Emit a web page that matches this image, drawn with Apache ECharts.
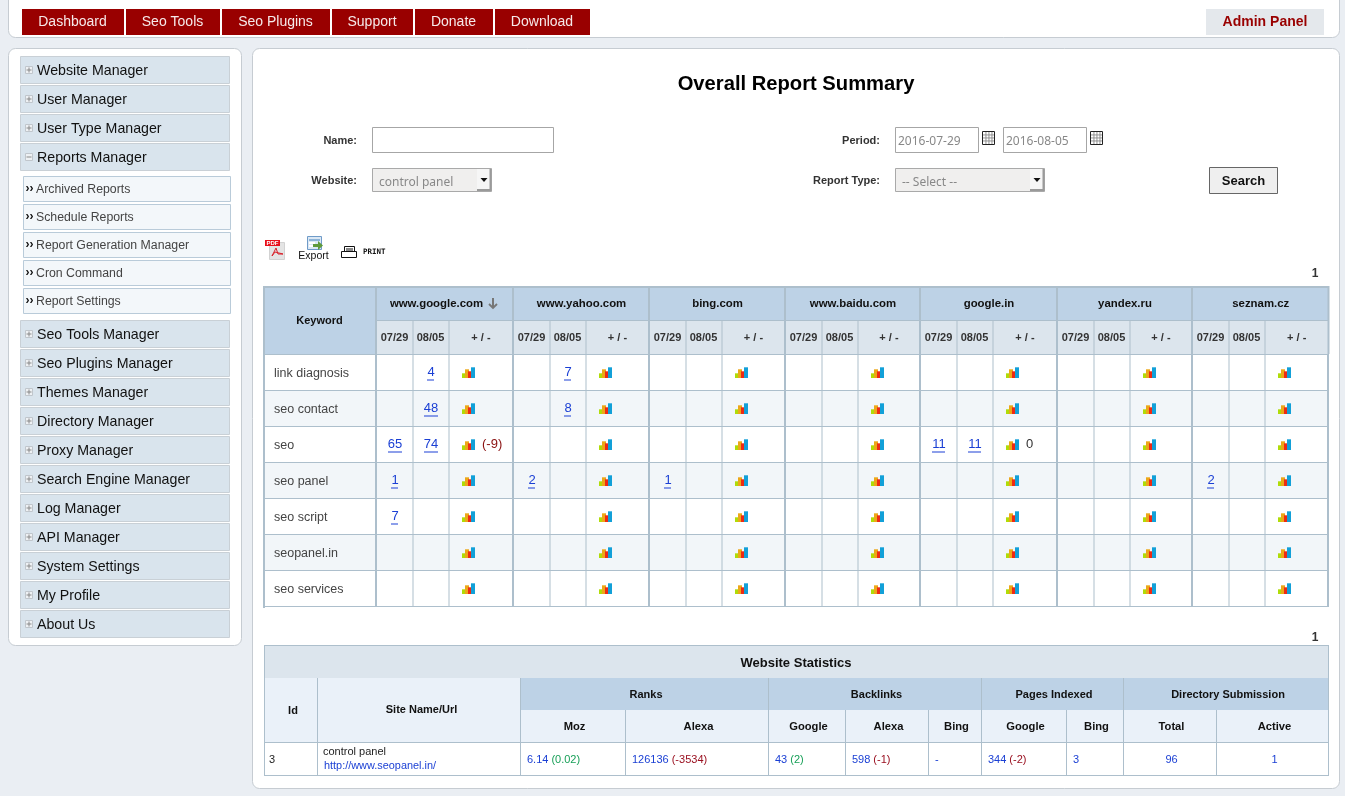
<!DOCTYPE html>
<html><head><meta charset="utf-8"><title>Overall Report Summary</title>
<style>html,body{margin:0;padding:0;background:#eaeef3;overflow:hidden}#c{width:1345px;height:796px}</style>
<script src="https://cdn.jsdelivr.net/npm/echarts@6/dist/echarts.min.js"></script></head>
<body><div id="c"></div>
<script>
// ---- content ----
const navTabs = ['Dashboard','Seo Tools','Seo Plugins','Support','Donate','Download'];
const menuTop = ['Website Manager','User Manager','User Type Manager','Reports Manager'];
const subMenu = ['Archived Reports','Schedule Reports','Report Generation Manager','Cron Command','Report Settings'];
const menuBottom = ['Seo Tools Manager','Seo Plugins Manager','Themes Manager','Directory Manager','Proxy Manager','Search Engine Manager','Log Manager','API Manager','System Settings','My Profile','About Us'];
const keywords = ['link diagnosis','seo contact','seo','seo panel','seo script','seopanel.in','seo services'];
const engines = ['www.google.com','www.yahoo.com','bing.com','www.baidu.com','google.in','yandex.ru','seznam.cz'];
const dates = ['07/29','08/05'];
const firstDate = [
  [null,null,65,1,7,null,null],
  [null,null,null,2,null,null,null],
  [null,null,null,1,null,null,null],
  [null,null,null,null,null,null,null],
  [null,null,11,null,null,null,null],
  [null,null,null,null,null,null,null],
  [null,null,null,2,null,null,null]];
const secondDate = [
  [4,48,74,null,null,null,null],
  [7,8,null,null,null,null,null],
  [null,null,null,null,null,null,null],
  [null,null,null,null,null,null,null],
  [null,null,11,null,null,null,null],
  [null,null,null,null,null,null,null],
  [null,null,null,null,null,null,null]];
const statGroups = ['Ranks','Backlinks','Pages Indexed','Directory Submission'];
const statColumns = ['Moz','Alexa','Google','Alexa','Bing','Google','Bing','Total','Active'];
const statValues = ['6.14','126136','43','598','-','344','3','96','1'];
const statDeltas = [0.02,-3534,2,-1,null,-2,null,null,null];

// ---- layout ----
const FONT='"Liberation Sans"';
const engineWidths=[137,136,136,135,137,135,136.5];
const keywordWidth=112;
const statWidths=[53,203,105,143,77,83,53,85,57,93,113];
const BORDER='#adbfcc', HEAD='#bdd2e6', SUB='#dce5ed', ALT='#f2f6f9', LINK='#1a3fd4', KW='#444444';
const el=[];
const R=(x,y,w,h,fill,stroke,r)=>el.push({type:'rect',silent:true,shape:{x,y,width:w,height:h,r:r||0},style:{fill:fill||'none',stroke:stroke||null,lineWidth:stroke?1:0}});
const T=(x,y,text,font,fill,align,family)=>el.push({type:'text',silent:true,style:{x,y,text,font:font+' '+(family||FONT),fill:fill||'#111',align:align||'left',verticalAlign:'middle'}});
const mctx=document.createElement('canvas').getContext('2d');
const tw=(s,f)=>{mctx.font=f+' '+FONT;return mctx.measureText(s).width;};

// top bar and panels
R(8.5,-10.5,1331,48,'#fff','#c6ccd2',7);
R(8.5,48.5,233,597,'#fff','#c6ccd2',7);
R(252.5,48.5,1087,740,'#fff','#c6ccd2',7);
// nav
const navX=[[22,102],[126,94],[222,108],[332,81],[415,78],[495,95]];
navTabs.forEach((t,i)=>{R(navX[i][0],9,navX[i][1],26,'#990000');T(navX[i][0]+navX[i][1]/2-.5,22.5,t,'14px','#f6e9e9','center');});
R(1206,9,118,26,'#e4e8ec');T(1265,22.5,'Admin Panel','bold 14px','#990000','center');
// side menu
function menuItem(t,y,open){
  R(20.5,y+.5,209,27,'#d9e4ed','#c9d0d6');
  R(25.5,y+10.5,7,7,'#eef1f4','#c0c6cc');
  R(26.5,y+13.5,5,1,'#888');
  if(!open)R(28.5,y+11.5,1,5,'#888');
  T(37,y+15,t,'14.2px','#111');
}
menuTop.forEach((t,i)=>menuItem(t,56+29*i,i===3));
subMenu.forEach((t,i)=>{const y=176+28*i;
  R(23.5,y+.5,207,25,'#f3f7fa','#b9cbd9');
  T(25.5,y+13,'››','bold 12px','#111');
  T(36,y+13.5,t,'12.3px','#444');});
menuBottom.forEach((t,i)=>menuItem(t,320+29*i,false));
// heading and form
T(796,84,'Overall Report Summary','bold 20.2px','#000','center');
T(357,140.5,'Name:','bold 11px','#333','right');
T(357,180.5,'Website:','bold 11px','#333','right');
T(880,140.5,'Period:','bold 11px','#333','right');
T(880,180.5,'Report Type:','bold 11px','#333','right');
R(372.5,127.5,181,25,'#fff','#a6a6a6');
function calendar(x){R(x+.5,131.5,12,13,'#fff','#222');
  [3,6,9].forEach(d=>R(x+d+.5,132,.9,12,'#888'));[3,6,9].forEach(d=>R(x+1,131+d+.5,11,.9,'#888'));}
const NOTO='"Noto Sans"';
R(895.5,127.5,83,25,'#fff','#a6a6a6');T(898,141.5,'2016-07-29','12px','#888','left',NOTO);calendar(982);
R(1003.5,127.5,83,25,'#fff','#a6a6a6');T(1006,141.5,'2016-08-05','12px','#888','left',NOTO);calendar(1090);
function select(x,w,t){R(x+.5,168.5,w-1,23,'#f0efee','#a9a9a9');T(x+7,182.5,t,'12px','#888','left',NOTO);
  R(x+w-15,169,13,20,'#f6f6f6');R(x+w-2.5,169,2,22,'#9a9a9a');R(x+w-15,189,14,2,'#9a9a9a');
  el.push({type:'polygon',silent:true,shape:{points:[[x+w-11.5,178],[x+w-4.5,178],[x+w-8,182]]},style:{fill:'#111'}});}
select(372,120,'control panel');select(895,150,'-- Select --');
R(1209.5,167.5,68,26,'#efefef','#666');T(1243.5,181,'Search','bold 13px','#111','center');
// toolbar icons
R(269.5,242.5,15,17,'#e4e4e4','#d2d2d2');R(265,240,15,6,'#e8101c');T(272.5,243.2,'PDF','bold 6px','#fff','center');
el.push({type:'polyline',silent:true,shape:{points:[[272,256],[276,248],[278,254],[283,254],[275,252],[272,256]]},style:{stroke:'#d8202a',lineWidth:1,fill:'none'}});
R(307.5,236.5,14,13,'#dbe8f5','#6f9bc8');R(309,239,11,2,'#8db4d8');[242,245].forEach(y=>R(309,y,6,2,'#fff'));
el.push({type:'polygon',silent:true,shape:{points:[[313,244],[318,244],[318,241],[323,245.5],[318,250],[318,247],[313,247]]},style:{fill:'#5f9a3c'}});
T(313.5,256,'Export','10.5px','#111','center');
R(344.5,246.5,10,8,'#fff','#111');R(341.5,251.5,15,6,'#fff','#111');R(346,248.5,7,1,'#111');R(346,250.5,7,1,'#111');
T(363,252.5,'PRINT','bold 7.5px','#111','left','"DejaVu Sans Mono"');
T(1315,273.5,'1','bold 12px','#333','center');
T(1315,638,'1','bold 12px','#333','center');

// ---- table 1 header ----
const Tx=264, Ty=287;
R(Tx,Ty,1065,67,HEAD);
R(Tx,Ty-1,1065,2,BORDER);
T(Tx+keywordWidth/2-.5,320.5,'Keyword','bold 11px','#111','center');
let ex=Tx+keywordWidth;
const engineStart=[];
engines.forEach((e,i)=>{
  const w=engineWidths[i]; engineStart.push(ex-Tx);
  R(ex,320,w,34,SUB);
  R(ex,320,w,1,BORDER);
  T(ex+w/2+(i===0?-8:.5),303.5,e,'bold 11.4px','#111','center');
  T(ex+18.5,337.5,dates[0],'bold 11px','#333','center');
  T(ex+54.5,337.5,dates[1],'bold 11px','#333','center');
  T(ex+73+(w-73)/2,337.5,'+ / -','bold 11px','#333','center');
  R(ex+36.5,320,1,34,BORDER);R(ex+72.5,320,1,34,BORDER);
  R(ex-1,287,2,67,BORDER);
  ex+=w;
});
// sort arrow
el.push({type:'polyline',silent:true,shape:{points:[[489,304],[493,308],[497,304]]},style:{stroke:'#777',lineWidth:1.8,fill:'none'}});
R(492,298,2,10,'#777');

// ---- table 2 header ----
const Sy=645;
R(Tx,Sy,1065,33,SUB);
R(Tx,Sy,1065,1,BORDER);
T(796,663,'Website Statistics','bold 13px','#111','center');
R(Tx,678,1065,64,'#eaf1f9');
const sE=[0];statWidths.forEach(w=>sE.push(sE[sE.length-1]+w));
const groupEdges=[[2,4],[4,7],[7,9],[9,11]];
groupEdges.forEach((g,i)=>{const a=Tx+sE[g[0]],b=Tx+sE[g[1]];R(a,678,b-a,32,HEAD);T((a+b)/2+2,694.5,statGroups[i],'bold 11px','#111','center');R(a,678,1,64,BORDER);});
statColumns.forEach((c,i)=>{const a=Tx+sE[i+2],b=Tx+sE[i+3];T((a+b)/2+2,726.5,c,'bold 11.2px','#111','center');if(i)R(a,710,1,32,BORDER);});
T(Tx+29,710.5,'Id','bold 11px','#111','center');
T(Tx+sE[1]+104.5,710,'Site Name/Url','bold 11px','#111','center');
R(Tx+sE[1],678,1,64,BORDER);
R(Tx,742,1065,1,BORDER);

// ---- chart data ----
const rankCells=[];
engines.forEach((e,i)=>keywords.forEach((k,r)=>{
  const a=firstDate[i][r], b=secondDate[i][r];
  rankCells.push([engineStart[i],r,i,a,b,(a!=null&&b!=null)?a-b:null]);
}));
const keywordCells=keywords.map((k,r)=>[0,r]);

function bars(x,y){
  const out=[];
  [[0,4.7,3.5,'#b0dc08'],[3,8.7,4,'#eca818'],[6,6.7,3.5,'#ee2a14'],[9,10.7,4,'#12a0d8']].forEach(b=>{
    out.push({type:'rect',shape:{x:x+b[0],y:y-b[1],width:b[2],height:b[1]},style:{fill:b[3]}});});
  return out;
}
function rowBg(top,h,r,w,x){return {type:'rect',shape:{x,y:top,width:w,height:h},style:{fill:r%2?ALT:'#fff'}};}
function line(x,y,w,h){return {type:'rect',shape:{x,y,width:w,height:h},style:{fill:BORDER}};}
function txt(x,y,text,font,fill,align){return {type:'text',style:{x,y,text,font:font+' '+FONT,fill,align:align||'left',verticalAlign:'middle'}};}
function link(cx,y,v){const s=String(v),w=tw(s,'13px');
  return [txt(cx,y,s,'13px',LINK,'center'),{type:'rect',shape:{x:Math.round(cx-w/2),y:y+7,width:Math.round(w),height:1},style:{fill:LINK}}];}

function renderKeyword(p,api){
  const r=api.value(1), c=api.coord([0,r]), h=api.size([0,1])[1], top=c[1]-h/2;
  const kids=[rowBg(top,h,r,keywordWidth,c[0]),line(c[0],top,keywordWidth,1),
    txt(c[0]+10,c[1]+1.5,keywords[r],'12.5px',KW)];
  if(r===keywords.length-1)kids.push(line(c[0],top+h,keywordWidth,1));
  return {type:'group',children:kids};
}
function renderRank(p,api){
  const x0=api.value(0), r=api.value(1), i=api.value(2);
  const c=api.coord([x0,r]), h=api.size([0,1])[1], top=Math.round(c[1]-h/2), x=c[0], w=engineWidths[i];
  const a=firstDate[i][r], b=secondDate[i][r], cy=top+18.5;
  let kids=[rowBg(top,h,r,w,x),line(x,top,w,1),line(x+36.5,top,1,h+1),line(x+72.5,top,1,h+1)];
  if(r===keywords.length-1)kids.push(line(x,top+h,w,1));
  kids.push(line(x-1,top,2,h+1));
  if(i===engines.length-1)kids.push(line(x+w-1.5,top,2,h+1));
  if(a!=null)kids=kids.concat(link(x+19,cy,a));
  if(b!=null)kids=kids.concat(link(x+55,cy,b));
  kids=kids.concat(bars(x+86,top+24));
  const d=(a!=null&&b!=null)?a-b:null;
  if(d!==null)kids.push(txt(x+106,cy,d===0?'0':'('+d+')','13px',d===0?'#333':'#8a1010'));
  return {type:'group',children:kids};
}
function renderStat(p,api){
  const i=api.value(0), c=api.coord([sE[i],0]), h=api.size([0,1])[1], top=c[1]-h/2, x=c[0], w=statWidths[i], cy=c[1]+1;
  const kids=[line(x,top,1,h),line(x,top+h-1,w,1)];
  if(i===statWidths.length-1)kids.push(line(x+w-1,top,1,h));
  if(i===0)kids.push(txt(x+5,cy,'3','11px','#222'));
  else if(i===1){kids.push(txt(x+6,top+10,'control panel','11px','#222'));kids.push(txt(x+7,top+24,'http://www.seopanel.in/','10.9px',LINK));}
  else{
    const k=i-2, v=statValues[k], d=statDeltas[k];
    if(k>=7)kids.push(txt(x+w/2+2,cy,v,'11px',LINK,'center'));
    else{
      kids.push(txt(x+7,cy,v,'11px',LINK));
      if(d!=null)kids.push(txt(x+7+tw(v,'11px')+3,cy,'('+d+')','11px',d<0?'#9a1020':'#18a058'));
    }
  }
  return {type:'group',children:kids};
}

const chart=echarts.init(document.getElementById('c'),null,{renderer:'canvas'});
chart.setOption({
  animation:false,
  backgroundColor:'#eaeef3',
  tooltip:{show:false},
  grid:[
    {left:Tx,top:354,width:1065,height:252,containLabel:false},
    {left:Tx,top:742,width:1065,height:34,containLabel:false}],
  xAxis:[
    {type:'value',gridIndex:0,min:0,max:1065,show:false},
    {type:'value',gridIndex:1,min:0,max:1065,show:false}],
  yAxis:[
    {type:'category',gridIndex:0,inverse:true,data:keywords,show:false},
    {type:'category',gridIndex:1,data:['control panel'],show:false}],
  graphic:{elements:el.concat([
    {type:'rect',silent:true,z:100,shape:{x:Tx-1,y:286,width:2,height:322},style:{fill:BORDER}},
    {type:'rect',silent:true,z:100,shape:{x:1327.5,y:286,width:2,height:68},style:{fill:BORDER}},
    {type:'rect',silent:true,z:100,shape:{x:Tx,y:645,width:1,height:131},style:{fill:BORDER}},
    {type:'rect',silent:true,z:100,shape:{x:1328,y:645,width:1,height:97},style:{fill:BORDER}}
  ])},
  series:[
    {type:'custom',silent:true,clip:false,xAxisIndex:0,yAxisIndex:0,data:keywordCells,renderItem:renderKeyword,encode:{x:0,y:1}},
    {type:'custom',silent:true,clip:false,xAxisIndex:0,yAxisIndex:0,data:rankCells,renderItem:renderRank,encode:{x:0,y:1}},
    {type:'custom',silent:true,clip:false,xAxisIndex:1,yAxisIndex:1,data:statWidths.map((w,i)=>[i,0]),renderItem:renderStat,encode:{x:0,y:1}}
  ]
});
</script></body></html>
